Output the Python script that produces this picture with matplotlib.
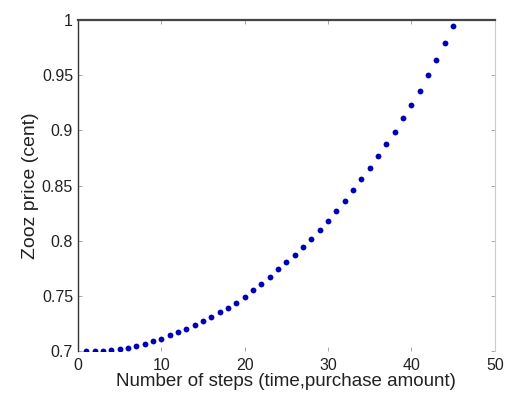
import matplotlib
matplotlib.use("Agg")
import matplotlib.pyplot as plt

# Values
steps = list(range(1, 46))
price = [
    0.700, 0.700, 0.7005, 0.701, 0.702, 0.703, 0.705, 0.7065, 0.709, 0.711,
    0.7145, 0.717, 0.720, 0.7235, 0.727, 0.731, 0.735, 0.739, 0.744, 0.749,
    0.755, 0.761, 0.767, 0.774, 0.781, 0.787, 0.794, 0.802, 0.810, 0.818,
    0.827, 0.836, 0.846, 0.856, 0.866, 0.877, 0.888, 0.899, 0.911, 0.923,
    0.936, 0.950, 0.964, 0.979, 0.995,
]
x_ticks = [0, 10, 20, 30, 40, 50]
y_ticks = [0.7, 0.75, 0.8, 0.85, 0.9, 0.95, 1]
y_tick_labels = ["0.7", "0.75", "0.8", "0.85", "0.9", "0.95", "1"]

plt.rcParams["font.family"] = ["Liberation Sans", "DejaVu Sans"]

fig = plt.figure(figsize=(5.06, 3.94), dpi=100)
ax = fig.add_axes([0.154, 0.109, 0.824, 0.840])

ax.plot(steps, price, linestyle="none", marker="o", markersize=4.2,
        color="#0000b8", markeredgewidth=0)

ax.set_xlim(0, 50)
ax.set_ylim(0.7, 1)
ax.set_xticks(x_ticks)
ax.set_yticks(y_ticks)
ax.set_yticklabels(y_tick_labels)
ax.tick_params(direction="in", length=3, width=0.6, labelsize=11.5,
               top=True, right=True, colors="#999999", labelcolor="#222222")
ax.tick_params(axis="x", pad=5)

ax.spines["left"].set_color("#333333")
ax.spines["left"].set_linewidth(1.0)
ax.spines["top"].set_color("#444444")
ax.spines["top"].set_linewidth(1.6)
ax.spines["right"].set_color("#cccccc")
ax.spines["right"].set_linewidth(0.8)
ax.spines["bottom"].set_visible(False)

ax.set_xlabel("Number of steps (time,purchase amount)", fontsize=13.5,
              color="#222222", labelpad=0)
ax.set_ylabel("Zooz price (cent)", fontsize=14, color="#222222", labelpad=2)

fig.savefig("out.png", dpi=100)
